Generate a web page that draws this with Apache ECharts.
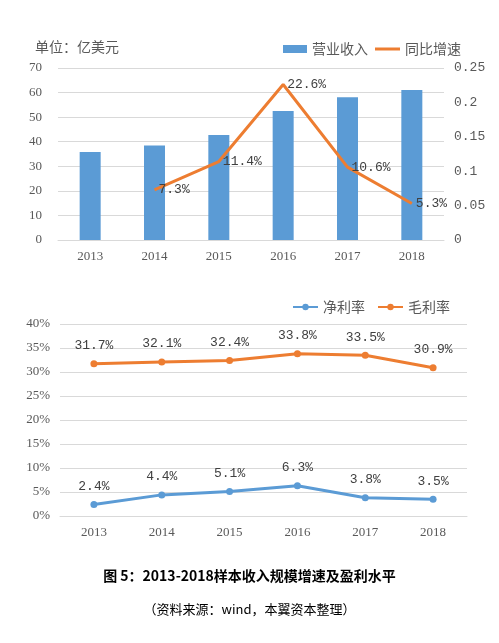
<!DOCTYPE html>
<html>
<head>
<meta charset="utf-8">
<script src="https://cdn.jsdelivr.net/npm/echarts@6/dist/echarts.min.js"></script>
<style>
  html, body { margin: 0; padding: 0; background: #fff; }
  #main { width: 499px; height: 643px; }
</style>
</head>
<body>
<div id="main"></div>
<script>
// 数据
const years = ['2013', '2014', '2015', '2016', '2017', '2018']
const revenue = [35.8, 38.5, 42.7, 52.5, 58.1, 61.0]
const growth = [null, 0.073, 0.114, 0.226, 0.106, 0.053]
const netMargin = [2.4, 4.4, 5.1, 6.3, 3.8, 3.5]
const grossMargin = [31.7, 32.1, 32.4, 33.8, 33.5, 30.9]

const numFont = '"Liberation Serif", "Noto Sans CJK SC", serif'
const labFont = '"Liberation Mono", "Noto Sans CJK SC", monospace'
const cjkFont = '"Noto Sans CJK SC", sans-serif'
const blue = '#5B9BD5'
const orange = '#ED7D31'
const grey = '#595959'
const gridLine = '#d9d9d9'

const myCharts = echarts.init(document.getElementById('main'))
myCharts.setOption({
  animation: false,
  title: [
    { text: '单位：亿美元', left: 30, top: 35, textStyle: { fontFamily: cjkFont, fontSize: 14, fontWeight: 'normal', color: grey } },
    { text: '图 5：2013-2018样本收入规模增速及盈利水平', left: 'center', top: 564, textStyle: { fontFamily: cjkFont, fontSize: 14, fontWeight: 'bold', color: '#000' } },
    { text: '（资料来源：wind，本翼资本整理）', left: 'center', top: 598, textStyle: { fontFamily: cjkFont, fontSize: 13, fontWeight: 'normal', color: '#000' } }
  ],
  legend: [
    {
      data: [{ name: '营业收入', icon: 'rect' }],
      left: 278, top: 37, itemWidth: 24, itemHeight: 8, itemGap: 8,
      textStyle: { fontFamily: cjkFont, fontSize: 14, color: grey }
    },
    {
      data: [{ name: '同比增速', icon: 'rect', itemStyle: { color: orange } }],
      left: 370, top: 37, itemWidth: 25, itemHeight: 3,
      textStyle: { fontFamily: cjkFont, fontSize: 14, color: grey }
    },
    {
      data: ['净利率', '毛利率'],
      left: 287, top: 295, itemWidth: 25, itemHeight: 8, itemGap: 12,
      textStyle: { fontFamily: cjkFont, fontSize: 14, color: grey }
    }
  ],
  grid: [
    { left: 58, right: 55, top: 68, height: 172 },
    { left: 60, right: 32, top: 324, height: 192 }
  ],
  xAxis: [
    {
      type: 'category', gridIndex: 0, data: years,
      axisLine: { lineStyle: { color: gridLine } }, axisTick: { show: false },
      axisLabel: { fontFamily: numFont, fontSize: 13, color: grey, margin: 10 }
    },
    {
      type: 'category', gridIndex: 1, data: years,
      axisLine: { lineStyle: { color: gridLine } }, axisTick: { show: false },
      axisLabel: { fontFamily: numFont, fontSize: 13, color: grey, margin: 10 }
    }
  ],
  yAxis: [
    {
      type: 'value', gridIndex: 0, min: 0, max: 70, interval: 10,
      splitLine: { lineStyle: { color: gridLine } },
      axisLabel: { fontFamily: numFont, fontSize: 13, color: grey, margin: 16 }
    },
    {
      type: 'value', gridIndex: 0, min: 0, max: 0.25, interval: 0.05, position: 'right',
      splitLine: { show: false },
      axisLabel: { fontFamily: labFont, fontSize: 13, color: grey, margin: 10, formatter: v => String(+v.toFixed(2)) }
    },
    {
      type: 'value', gridIndex: 1, min: 0, max: 40, interval: 5,
      splitLine: { lineStyle: { color: gridLine } },
      axisLabel: { fontFamily: numFont, fontSize: 13, color: grey, margin: 10, formatter: '{value}%' }
    }
  ],
  series: [
    {
      name: '营业收入', type: 'bar', xAxisIndex: 0, yAxisIndex: 0,
      data: revenue, barWidth: 21, itemStyle: { color: blue }
    },
    {
      name: '同比增速', type: 'line', xAxisIndex: 0, yAxisIndex: 1,
      data: growth, symbol: 'circle', symbolSize: 0, lineStyle: { color: orange, width: 3 },
      itemStyle: { color: orange },
      label: {
        show: true, position: 'right', distance: 4,
        fontFamily: labFont, fontSize: 13, color: '#404040',
        formatter: p => (p.value * 100).toFixed(1) + '%'
      },
      labelLayout: { hideOverlap: false }
    },
    {
      name: '净利率', type: 'line', xAxisIndex: 1, yAxisIndex: 2,
      data: netMargin, symbol: 'circle', symbolSize: 7,
      lineStyle: { color: blue, width: 3 }, itemStyle: { color: blue },
      label: {
        show: true, position: 'top', distance: 8,
        fontFamily: labFont, fontSize: 13, color: '#404040',
        formatter: p => p.value.toFixed(1) + '%'
      }
    },
    {
      name: '毛利率', type: 'line', xAxisIndex: 1, yAxisIndex: 2,
      data: grossMargin, symbol: 'circle', symbolSize: 7,
      lineStyle: { color: orange, width: 3 }, itemStyle: { color: orange },
      label: {
        show: true, position: 'top', distance: 8,
        fontFamily: labFont, fontSize: 13, color: '#404040',
        formatter: p => p.value.toFixed(1) + '%'
      }
    }
  ]
})
</script>
</body>
</html>
